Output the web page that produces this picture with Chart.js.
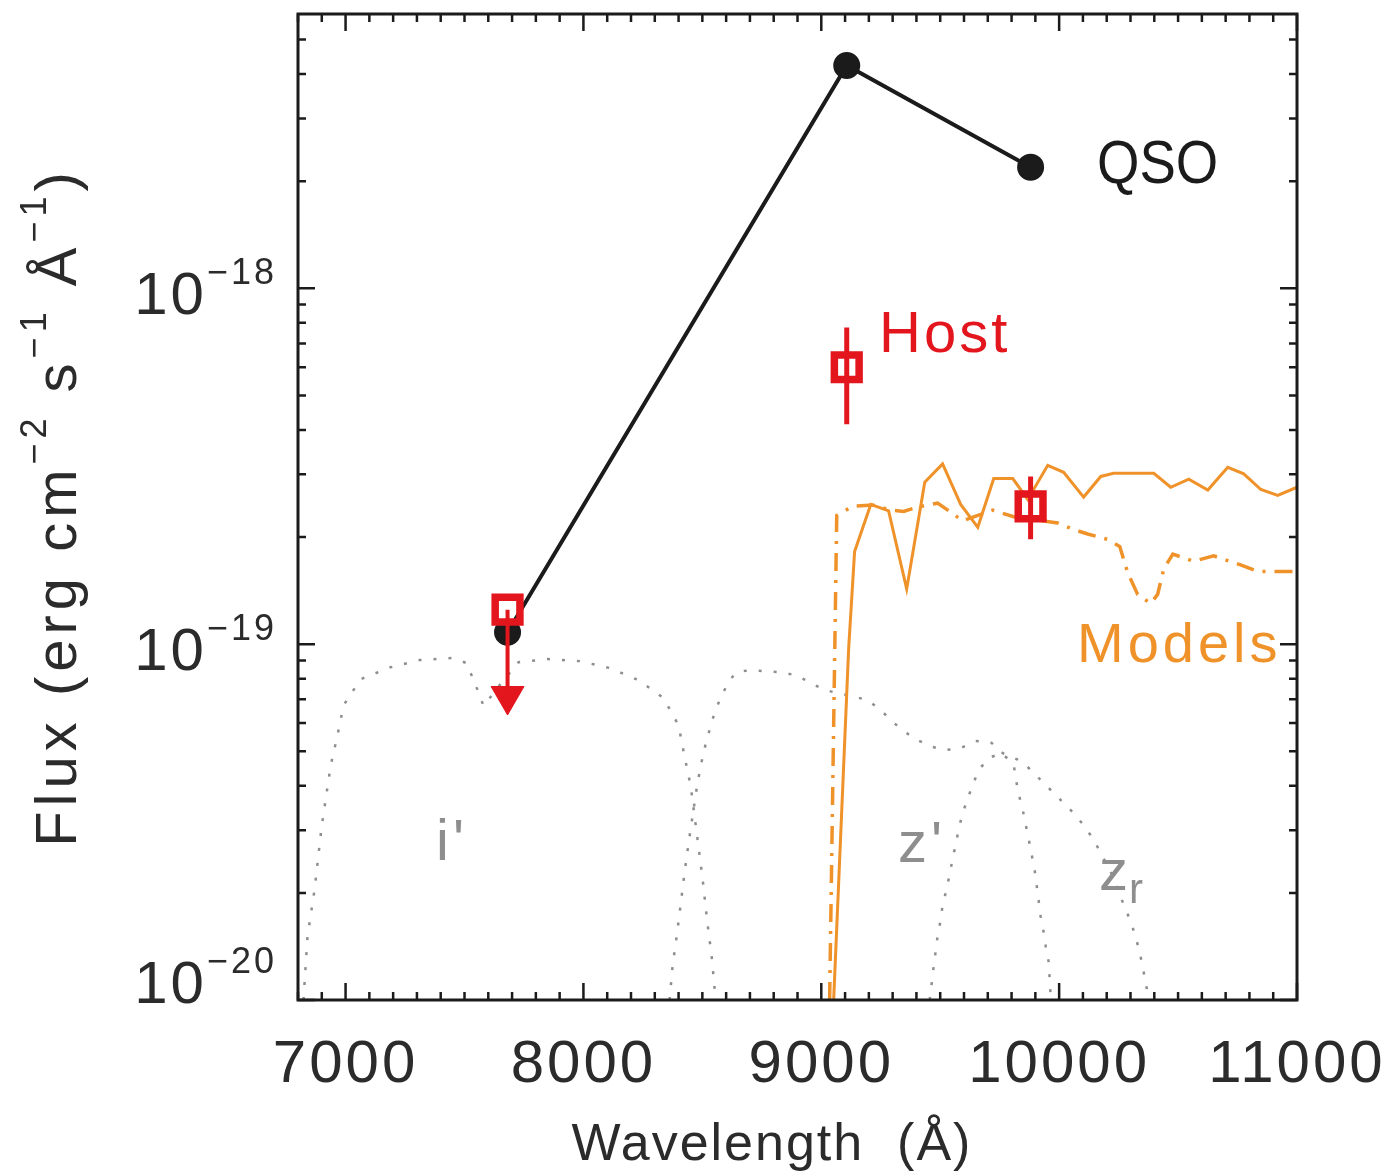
<!DOCTYPE html>
<html>
<head>
<meta charset="utf-8">
<title>QSO / host SED</title>
<script src="https://cdn.jsdelivr.net/npm/chart.js@4.4.1/dist/chart.umd.min.js"></script>
<style>
  html, body { margin: 0; padding: 0; background: #fff; }
  #wrap { width: 1391px; height: 1174px; position: relative; }
</style>
</head>
<body>
<div id="wrap"><canvas id="sed"></canvas></div>
<script>
/* ---- axes ---- */
const xMin = 6800, xMax = 11000;
const xTicks = [7000, 8000, 9000, 10000, 11000];
const xMinorStep = 100;
const yMin = 1e-20, yMax = 5.9e-18;
const yDecades = [1e-20, 1e-19, 1e-18];

/* ---- QSO photometry ---- */
const qsoWave = [7681, 9107, 9880];
const qsoFlux = [1.08e-19, 4.23e-18, 2.19e-18];

/* ---- host detections + upper limit ---- */
const hostWave = [9107, 9880];
const hostFlux = [6.0e-19, 2.44e-19];
const hostErrHi = [7.76e-19, 2.96e-19];
const hostErrLo = [4.15e-19, 1.97e-19];
const limitWave = [7681];
const limitFlux = [1.25e-19];
const limitArrow = [7.15e-20];

/* ---- model spectra ---- */
const modelSolidWave = [9052, 9115, 9140, 9208, 9283, 9359, 9435, 9510, 9586, 9658, 9725, 9805, 9868, 9952, 10019,
  10103, 10175, 10229, 10398, 10469, 10545, 10625, 10709, 10776, 10848, 10919, 11000];
const modelSolidFlux = [1.0e-20, 9.7e-20, 1.82e-19, 2.47e-19, 2.37e-19, 1.43e-19, 2.85e-19, 3.21e-19, 2.47e-19, 2.13e-19,
  2.92e-19, 2.92e-19, 2.55e-19, 3.18e-19, 3.04e-19, 2.59e-19, 2.96e-19, 3.02e-19, 3.02e-19, 2.76e-19, 2.91e-19,
  2.71e-19, 3.14e-19, 3.01e-19, 2.72e-19, 2.62e-19, 2.76e-19];
const modelDashWave = [9035, 9065, 9132, 9216, 9292, 9346, 9405, 9489, 9544, 9594, 9721, 9809, 9935, 9994, 10061,
  10120, 10204, 10255, 10288, 10330, 10385, 10414, 10440, 10478, 10566, 10650, 10763, 10835, 11000];
const modelDashFlux = [1.0e-20, 2.30e-19, 2.44e-19, 2.46e-19, 2.38e-19, 2.36e-19, 2.43e-19, 2.49e-19, 2.35e-19, 2.22e-19,
  2.38e-19, 2.28e-19, 2.22e-19, 2.19e-19, 2.10e-19, 2.04e-19, 1.97e-19, 1.88e-19, 1.59e-19, 1.38e-19, 1.30e-19,
  1.38e-19, 1.63e-19, 1.79e-19, 1.71e-19, 1.77e-19, 1.67e-19, 1.60e-19, 1.60e-19];

/* ---- filter curves (arbitrary scaling, drawn on flux axis) ---- */
const iWave = [6823, 6840, 6870, 6899, 6937, 6966, 6992, 7063, 7189, 7311, 7446, 7509, 7559, 7580, 7648, 7727, 7849,
  7984, 8110, 8232, 8337, 8400, 8425, 8451, 8476, 8501, 8522, 8539, 8556];
const iFlux = [1.0e-20, 1.51e-20, 2.05e-20, 3.06e-20, 4.54e-20, 5.55e-20, 6.74e-20, 7.97e-20, 8.61e-20, 9.02e-20,
  9.14e-20, 8.85e-20, 7.32e-20, 6.70e-20, 7.67e-20, 8.90e-20, 9.08e-20, 8.96e-20, 8.57e-20, 7.92e-20, 7.05e-20,
  5.91e-20, 4.84e-20, 3.99e-20, 2.96e-20, 2.19e-20, 1.63e-20, 1.33e-20, 1.0e-20];
const zBroadWave = [8362, 8375, 8392, 8409, 8425, 8442, 8459, 8480, 8505, 8539, 8560, 8585, 8611, 8644, 8699, 8766,
  8829, 8892, 8951, 9006, 9069, 9132, 9195, 9250, 9296, 9346, 9397, 9456, 9519, 9586, 9649, 9712, 9763, 9822, 9872,
  9918, 9965, 10015, 10057, 10103, 10141, 10171, 10217, 10251, 10276, 10301, 10322, 10339, 10351, 10364, 10377];
const zBroadFlux = [1.0e-20, 1.25e-20, 1.51e-20, 1.86e-20, 2.28e-20, 2.76e-20, 3.29e-20, 4.09e-20, 4.97e-20, 6.04e-20,
  6.65e-20, 7.24e-20, 7.87e-20, 8.34e-20, 8.45e-20, 8.39e-20, 8.34e-20, 8.18e-20, 7.82e-20, 7.47e-20, 7.28e-20,
  7.14e-20, 6.96e-20, 6.53e-20, 6.08e-20, 5.70e-20, 5.41e-20, 5.17e-20, 5.04e-20, 5.10e-20, 5.34e-20, 5.31e-20,
  4.94e-20, 4.75e-20, 4.49e-20, 4.18e-20, 3.89e-20, 3.60e-20, 3.37e-20, 3.10e-20, 2.85e-20, 2.62e-20, 2.29e-20,
  2.01e-20, 1.82e-20, 1.66e-20, 1.50e-20, 1.36e-20, 1.24e-20, 1.12e-20, 1.0e-20];
const zNarrowWave = [9456, 9473, 9489, 9502, 9510, 9527, 9540, 9552, 9565, 9578, 9594, 9615, 9636, 9662, 9704, 9758,
  9809, 9817, 9830, 9847, 9859, 9872, 9885, 9897, 9906, 9914, 9922, 9935, 9944, 9956, 9960, 9965];
const zNarrowFlux = [1.0e-20, 1.25e-20, 1.51e-20, 1.68e-20, 1.85e-20, 2.05e-20, 2.26e-20, 2.49e-20, 2.74e-20, 3.02e-20,
  3.35e-20, 3.67e-20, 4.02e-20, 4.43e-20, 4.79e-20, 4.94e-20, 4.60e-20, 4.21e-20, 3.79e-20, 3.42e-20, 3.12e-20,
  2.83e-20, 2.55e-20, 2.32e-20, 2.09e-20, 1.90e-20, 1.72e-20, 1.55e-20, 1.41e-20, 1.28e-20, 1.15e-20, 1.0e-20];

const FONT = '"Liberation Sans", Arial, Helvetica, sans-serif';
const INK = '#2b2b2b';
const RED = '#e3161e';
const ORANGE = '#f0922a';
const GRAY = '#8e8e8e';
const BLACK = '#1b1b1b';

const pts = (xs, ys) => xs.map((x, i) => ({ x, y: ys[i] }));

// text run with superscripts: parts = [text, size, rise]
function drawRich(ctx, parts, x, y, align) {
  const widths = parts.map(p => { ctx.font = `${p[1]}px ${FONT}`; return ctx.measureText(p[0]).width; });
  const total = widths.reduce((s, w) => s + w, 0);
  let cx = align === 'right' ? x - total : align === 'center' ? x - total / 2 : x;
  ctx.textAlign = 'left';
  ctx.textBaseline = 'alphabetic';
  parts.forEach((p, i) => {
    ctx.font = `${p[1]}px ${FONT}`;
    ctx.fillText(p[0], cx, y - p[2]);
    cx += widths[i];
  });
}

function label(ctx, text, x, y, size, color, spacing, sx) {
  ctx.save();
  ctx.letterSpacing = spacing + 'px';
  ctx.fillStyle = color;
  ctx.font = `${size}px ${FONT}`;
  ctx.textAlign = 'left';
  ctx.textBaseline = 'alphabetic';
  ctx.translate(x, y);
  ctx.scale(sx || 1, 1);
  ctx.fillText(text, 0, 0);
  ctx.restore();
}

// IDL-like frame: box + inward ticks on all four sides
const framePlugin = {
  id: 'frame',
  beforeDraw(chart) {
    chart.ctx.letterSpacing = '3px';
  },
  afterDatasetsDraw(chart) {
    const { ctx, chartArea: a, scales: { x, y } } = chart;
    ctx.save();
    ctx.strokeStyle = BLACK;
    ctx.lineWidth = 2.5;
    ctx.beginPath();
    for (let w = xMin; w <= xMax; w += xMinorStep) {
      const px = x.getPixelForValue(w);
      const len = w % 1000 === 0 ? 17 : 8;
      ctx.moveTo(px, a.bottom); ctx.lineTo(px, a.bottom - len);
      ctx.moveTo(px, a.top); ctx.lineTo(px, a.top + len);
    }
    yDecades.forEach(d => {
      for (let m = 1; m <= 9; m++) {
        const v = m * d;
        if (v > yMax) break;
        const py = y.getPixelForValue(v);
        const len = m === 1 ? 17 : 8;
        ctx.moveTo(a.left, py); ctx.lineTo(a.left + len, py);
        ctx.moveTo(a.right, py); ctx.lineTo(a.right - len, py);
      }
    });
    ctx.stroke();
    ctx.lineWidth = 3;
    ctx.strokeRect(a.left, a.top, a.right - a.left, a.bottom - a.top);
    ctx.restore();
  },
  afterDraw(chart) {
    const { ctx, chartArea: a, scales: { y } } = chart;
    ctx.save();
    ctx.fillStyle = INK;

    // y tick labels 10^n
    ctx.letterSpacing = '3px';
    yDecades.forEach((v, i) => {
      const py = y.getPixelForValue(v);
      const base = i === 0 ? a.bottom + 3 : py + 26;
      const exp = '\u2212' + Math.abs(Math.round(Math.log10(v)));
      drawRich(ctx, [['10', 60, 0], [exp, 36, 30]], 277, base, 'right');
    });

    // axis titles
    ctx.letterSpacing = '2px';
    drawRich(ctx, [['Wavelength  (\u00c5)', 52, 0]], 772, 1160, 'center');

    ctx.save();
    ctx.translate(76, 507);
    ctx.rotate(-Math.PI / 2);
    ctx.letterSpacing = '5px';
    drawRich(ctx, [['Flux (erg cm', 58, 0], ['\u22122', 36, 30], [' s', 58, 0], ['\u22121', 36, 30],
      [' \u00c5', 58, 0], ['\u22121', 36, 30], [')', 58, 0]], 0, 0, 'center');
    ctx.restore();
    ctx.restore();

    // annotations
    label(ctx, 'QSO', 1097, 183, 62, BLACK, 0, 0.88);
    label(ctx, 'Host', 879, 352, 58, RED, 3);
    label(ctx, 'Models', 1077, 662, 56, ORANGE, 4);
    label(ctx, "i'", 436, 860, 58, GRAY, 4);
    label(ctx, "z'", 898, 862, 58, GRAY, 4);
    label(ctx, 'z', 1099, 890, 58, GRAY, 0);
    label(ctx, 'r', 1129, 903, 42, GRAY, 0);
  }
};

const errorBars = hostWave.flatMap((w, i) => [
  { x: w, y: hostErrHi[i] }, { x: w, y: hostErrLo[i] }, { x: w, y: null }
]);
const arrowShaft = limitWave.flatMap((w, i) => [
  { x: w, y: limitFlux[i] }, { x: w, y: limitArrow[i] }, { x: w, y: null }
]);

new Chart(document.getElementById('sed'), {
  type: 'scatter',
  data: {
    datasets: [
      { // host squares (detections and upper limit)
        data: pts(hostWave.concat(limitWave), hostFlux.concat(limitFlux)),
        pointStyle: 'rect', pointRadius: 17.5, borderWidth: 7.5,
        borderColor: RED, backgroundColor: 'rgba(0,0,0,0)', showLine: false
      },
      {
        data: errorBars, showLine: true, borderColor: RED, borderWidth: 5,
        pointRadius: 0, spanGaps: false
      },
      { // upper limit arrow head
        data: pts(limitWave, limitArrow), pointStyle: 'triangle', rotation: 180,
        pointRadius: 19, backgroundColor: RED, borderColor: RED, borderWidth: 1, showLine: false
      },
      {
        data: arrowShaft, showLine: true, borderColor: RED, borderWidth: 4,
        pointRadius: 0, spanGaps: false
      },
      { // QSO
        data: pts(qsoWave, qsoFlux), showLine: true, borderColor: BLACK, borderWidth: 4,
        pointRadius: 12.5, pointBackgroundColor: BLACK, pointBorderColor: BLACK, pointBorderWidth: 2
      },
      {
        data: pts(modelSolidWave, modelSolidFlux), showLine: true, borderColor: ORANGE,
        borderWidth: 3, pointRadius: 0
      },
      {
        data: pts(modelDashWave, modelDashFlux), showLine: true, borderColor: ORANGE,
        borderWidth: 3.5, borderDash: [18, 9, 3, 9], pointRadius: 0
      },
      {
        data: pts(iWave, iFlux), showLine: true, borderColor: GRAY, borderWidth: 2.5,
        borderDash: [3, 12], pointRadius: 0
      },
      {
        data: pts(zBroadWave, zBroadFlux), showLine: true, borderColor: GRAY, borderWidth: 2.5,
        borderDash: [3, 12], pointRadius: 0
      },
      {
        data: pts(zNarrowWave, zNarrowFlux), showLine: true, borderColor: GRAY, borderWidth: 2.5,
        borderDash: [3, 12], pointRadius: 0
      }
    ]
  },
  options: {
    responsive: true,
    maintainAspectRatio: false,
    animation: false,
    events: [],
    layout: { autoPadding: false, padding: { top: 14, right: 94, left: 0, bottom: 0 } },
    plugins: { legend: { display: false }, tooltip: { enabled: false } },
    scales: {
      x: {
        type: 'linear', position: 'bottom', min: xMin, max: xMax,
        grid: { display: false, drawTicks: false },
        border: { display: false },
        afterBuildTicks: s => { s.ticks = xTicks.map(v => ({ value: v })); },
        afterFit: s => { s.height = 174; s.paddingLeft = 0; s.paddingRight = 0; },
        ticks: {
          autoSkip: false, maxRotation: 0, padding: 29, color: INK,
          font: { family: FONT, size: 60 },
          callback: v => String(v)
        }
      },
      y: {
        type: 'logarithmic', position: 'left', min: yMin, max: yMax,
        grid: { display: false, drawTicks: false },
        border: { display: false },
        ticks: { display: false },
        afterFit: s => { s.width = 298; s.paddingTop = 0; s.paddingBottom = 0; }
      }
    }
  },
  plugins: [framePlugin]
});
</script>
</body>
</html>
